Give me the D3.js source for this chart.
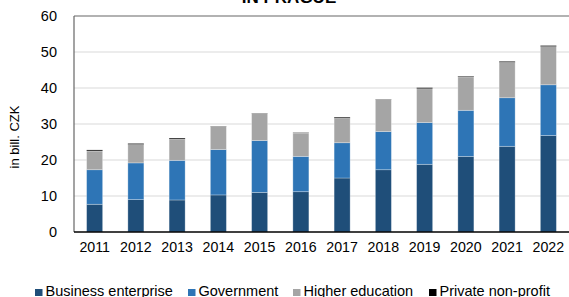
<!DOCTYPE html>
<html><head><meta charset="utf-8">
<script src="https://cdn.jsdelivr.net/npm/d3@7"></script>
<style>body{margin:0;background:#fff}svg{display:block;font-family:"Liberation Sans",Arial,sans-serif}</style>
</head><body><svg id="c" width="569" height="297"></svg>
<script>
const years = ["2011","2012","2013","2014","2015","2016","2017","2018","2019","2020","2021","2022"];
const business = [7.7, 9.0, 8.9, 10.3, 11.0, 11.2, 15.0, 17.3, 18.8, 21.0, 23.8, 26.8];
const government = [9.6, 10.2, 11.0, 12.6, 14.4, 9.8, 9.8, 10.6, 11.6, 12.8, 13.5, 14.1];
const higherEd = [5.2, 5.1, 5.9, 6.4, 7.5, 6.5, 6.8, 8.9, 9.4, 9.3, 9.8, 10.6];
const nonProfit = [0.3, 0.3, 0.3, 0.1, 0.1, 0.1, 0.3, 0.1, 0.3, 0.2, 0.3, 0.3];
const seriesNames = ["Business enterprise","Government","Higher education","Private non-profit"];
const colors = ["#1F4E79","#2E75B6","#A5A5A5","#000000"];
const yTicks = [0,10,20,30,40,50,60];

const svg = d3.select("#c");
const m = {l:74, r:0, t:16, b:65};
const W = 569, H = 297;
const x = d3.scaleBand().domain(years).range([m.l, W - m.r]).paddingInner(0.612).paddingOuter(0.306);
const y = d3.scaleLinear().domain([0,60]).range([H - m.b, m.t]);

// gridlines
svg.append("g").selectAll("line").data(yTicks.filter(d => d > 0 && d < 60)).join("line")
  .attr("x1", m.l).attr("x2", W - m.r).attr("y1", d => y(d)).attr("y2", d => y(d))
  .attr("stroke", "#d9d9d9").attr("stroke-width", 1);

const table = years.map((yr, i) => ({year: yr, s0: business[i], s1: government[i], s2: higherEd[i], s3: nonProfit[i]}));
const stack = d3.stack().keys(["s0","s1","s2","s3"])(table);
svg.append("g").selectAll("g").data(stack).join("g")
  .attr("fill", (d, i) => colors[i])
  .selectAll("rect").data(d => d).join("rect")
  .attr("x", d => x(d.data.year)).attr("width", x.bandwidth())
  .attr("y", d => y(d[1])).attr("height", d => y(d[0]) - y(d[1]))
  .attr("stroke", "rgba(255,255,255,0.35)").attr("stroke-width", 0.8);

// frame: top, left
svg.append("line").attr("x1", m.l).attr("x2", W).attr("y1", y(60)).attr("y2", y(60)).attr("stroke", "#666").attr("stroke-width", 1.2);
svg.append("line").attr("x1", m.l).attr("x2", m.l).attr("y1", y(60)).attr("y2", y(0)).attr("stroke", "#666").attr("stroke-width", 1.2);

// axes
const yAxis = svg.append("g").attr("transform", `translate(${m.l},0)`)
  .call(d3.axisLeft(y).tickValues(yTicks).tickSize(0).tickPadding(17));
yAxis.select(".domain").remove();
yAxis.selectAll("text").attr("font-size", 14.5).attr("fill", "#000").attr("font-family", "Liberation Sans, Arial, sans-serif");

const xAxis = svg.append("g").attr("transform", `translate(0,${y(0)})`)
  .call(d3.axisBottom(x).tickSize(0).tickPadding(10));
xAxis.select(".domain").attr("stroke", "#000").attr("stroke-width", 1.5).attr("d", `M${m.l},0H${W}`);
xAxis.selectAll("text").attr("font-size", 14.2).attr("fill", "#000").attr("font-family", "Liberation Sans, Arial, sans-serif");

// y label
svg.append("text").attr("transform", `translate(19,137) rotate(-90)`).attr("text-anchor", "middle")
  .attr("font-size", 13).text("in bill. CZK");

// title (cut off)
svg.append("text").attr("x", 289).attr("y", 3).attr("text-anchor", "middle")
  .attr("font-size", 17).attr("font-weight", "bold").text("IN PRAGUE");

// legend
const lx = [35, 188, 293, 429];
const lg = svg.append("g").selectAll("g").data(seriesNames).join("g");
lg.append("rect").attr("x", (d, i) => lx[i]).attr("y", 289).attr("width", 7.5).attr("height", 7).attr("fill", (d, i) => colors[i]);
lg.append("text").attr("x", (d, i) => lx[i] + 10.5).attr("y", 296).attr("font-size", 14.5).text(d => d);
</script></body></html>
